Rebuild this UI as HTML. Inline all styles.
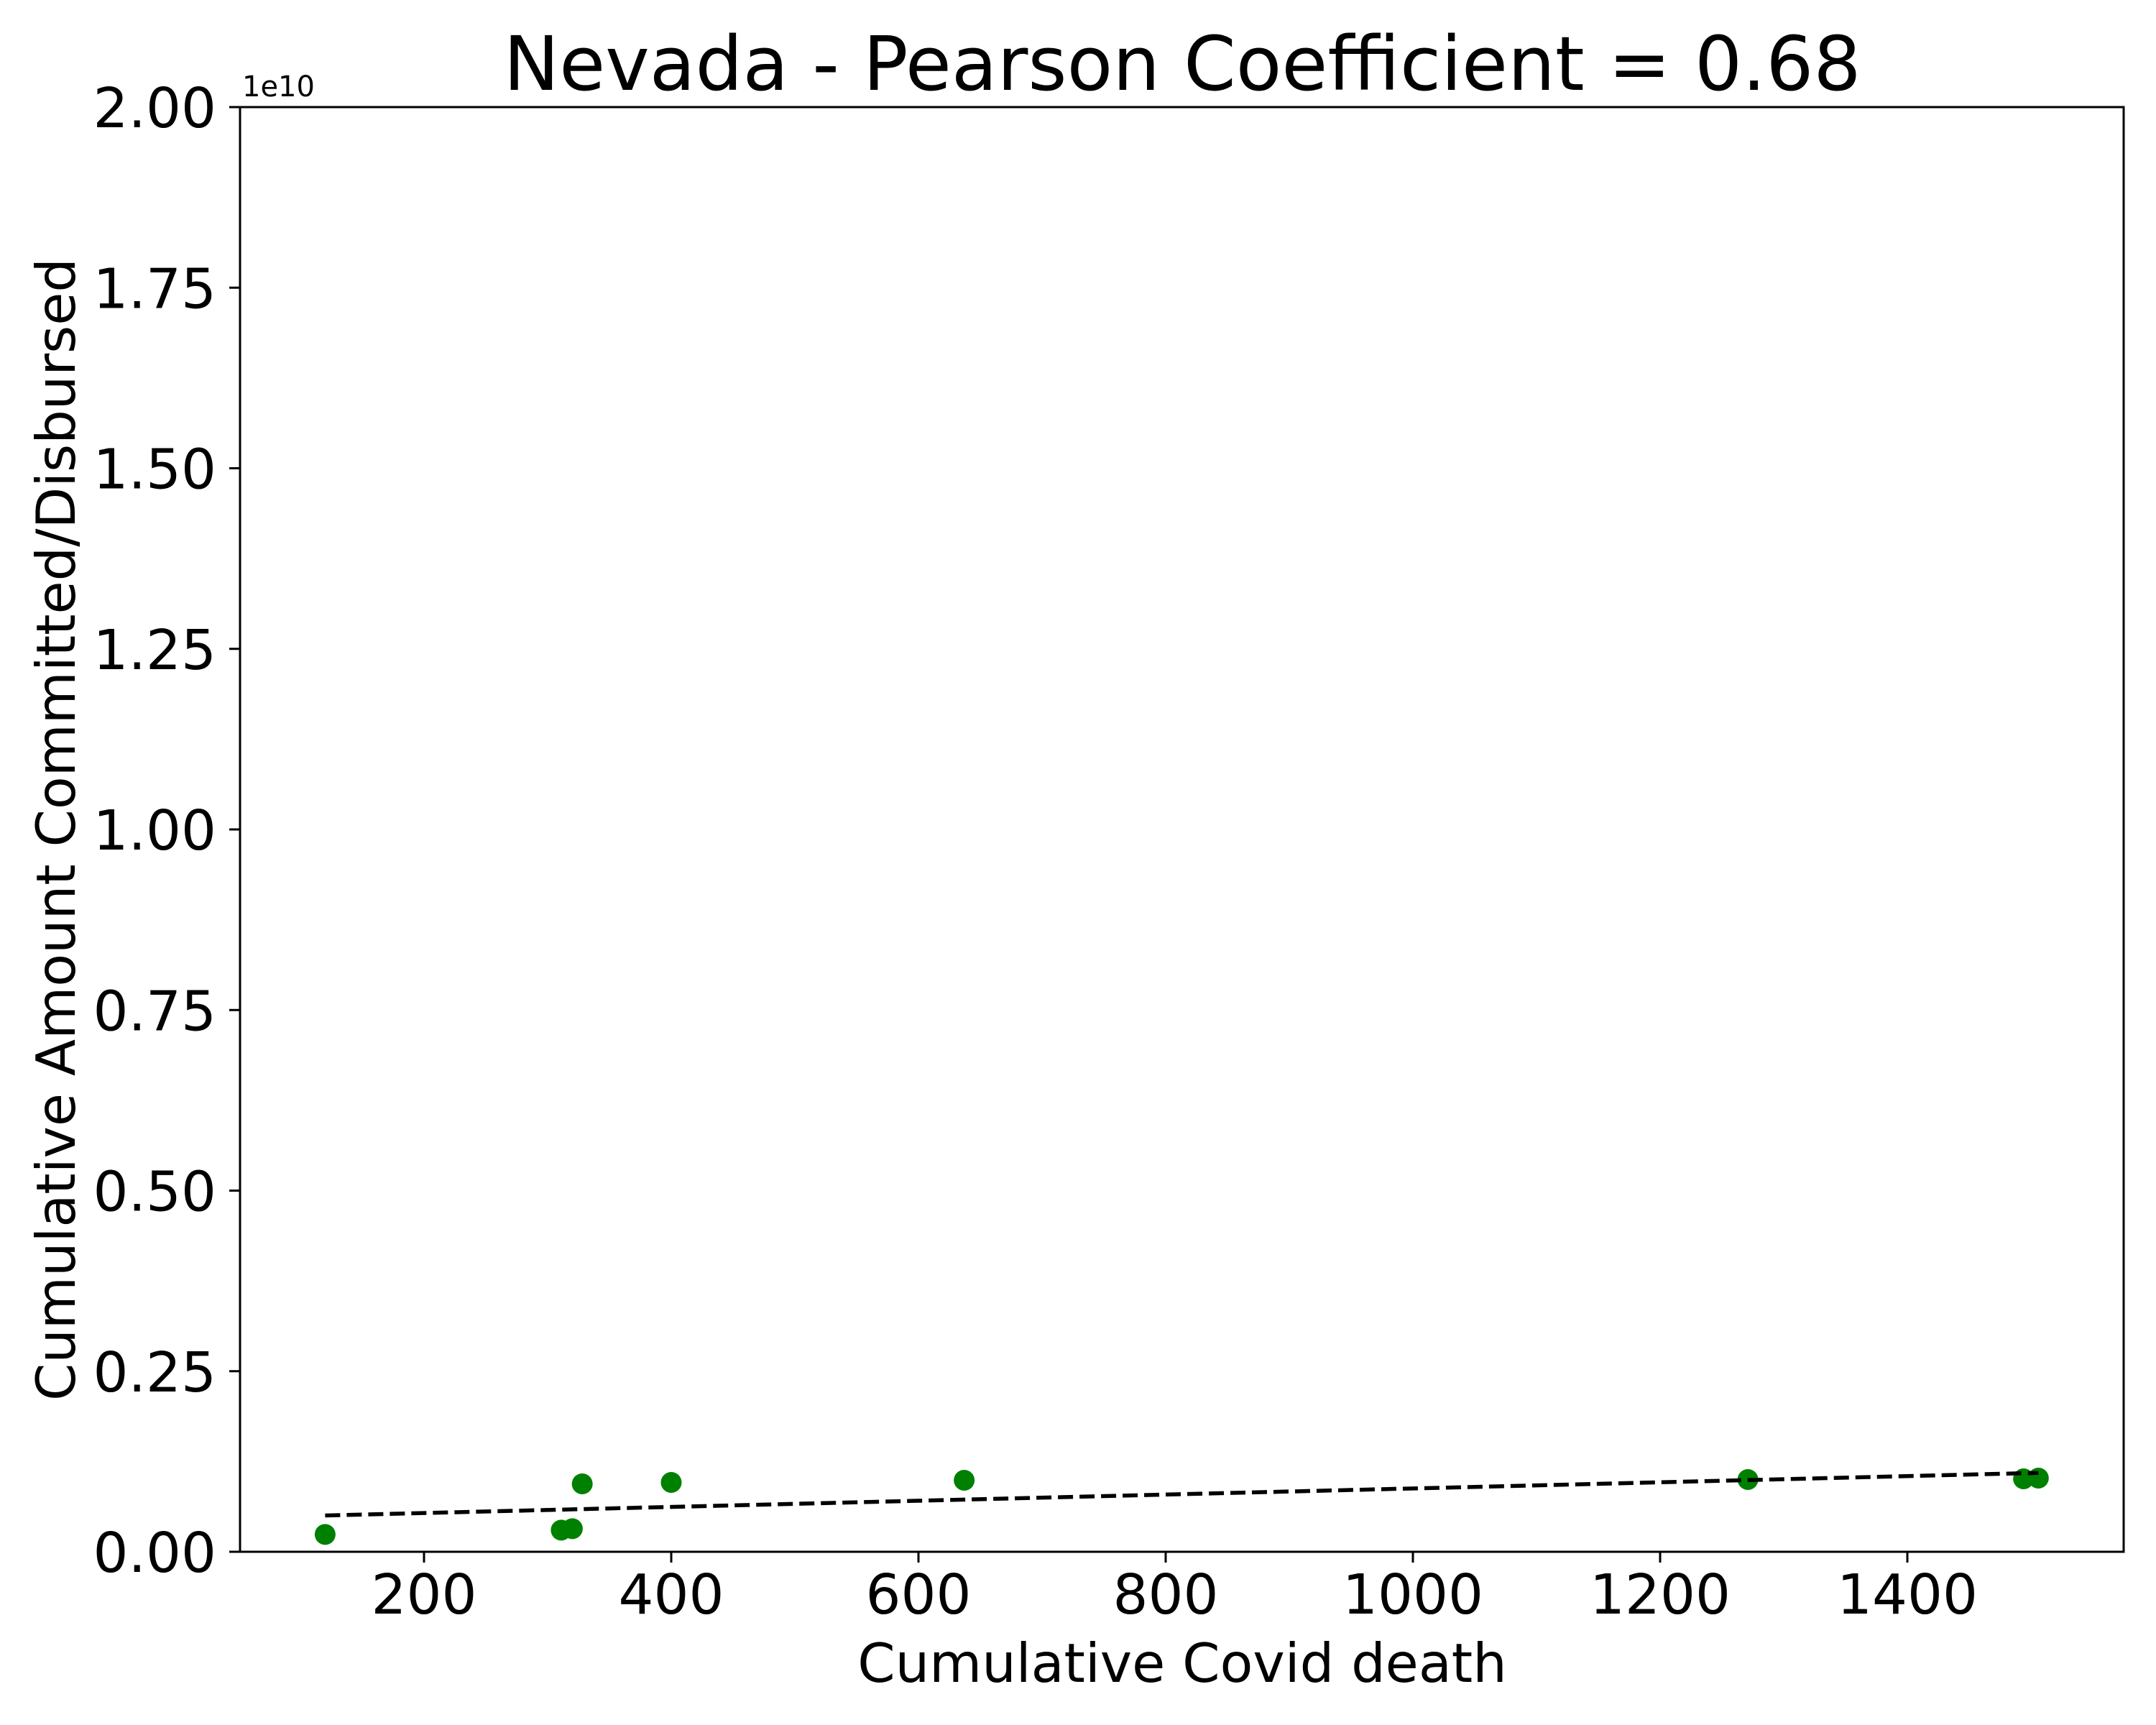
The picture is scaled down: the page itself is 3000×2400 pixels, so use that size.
<!DOCTYPE html>
<html><head><meta charset="utf-8"><style>
html,body{margin:0;padding:0;background:#fff;}
svg{display:block;font-family:"DejaVu Sans","Liberation Sans",sans-serif;}
</style></head><body>
<svg id="chart" width="3000" height="2400" viewBox="0 0 3000 2400">
<rect width="3000" height="2400" fill="#fff"/>
<text x="1645" y="125" font-size="104" text-anchor="middle">Nevada - Pearson Coefficient = 0.68</text>
<text x="1645" y="2340" font-size="75" text-anchor="middle">Cumulative Covid death</text>
<text x="0" y="0" font-size="75" text-anchor="middle" transform="translate(104,1154) rotate(-90)">Cumulative Amount Committed/Disbursed</text>
<text x="337" y="134" font-size="40">1e10</text>
<g id="marks"></g>
<rect x="334" y="149" width="2621" height="2010" fill="none" stroke="#000" stroke-width="3"/>
</svg>
<script>
const xValues = [120, 311, 320, 328, 400, 637, 1271, 1494, 1506];
const yValues = [0.24e9, 0.30e9, 0.32e9, 0.94e9, 0.96e9, 0.99e9, 1.0e9, 1.01e9, 1.02e9];
const xTicks = [200, 400, 600, 800, 1000, 1200, 1400];
const yTicks = [0, 0.25e10, 0.5e10, 0.75e10, 1.0e10, 1.25e10, 1.5e10, 1.75e10, 2.0e10];
const yTickLabels = ["0.00","0.25","0.50","0.75","1.00","1.25","1.50","1.75","2.00"];

const NS = "http://www.w3.org/2000/svg";
const X0 = 246, XS = 1.72;
function xPos(v){ return X0 + v * XS; }
function yPos(v){ return 2159 - v / 2e10 * 2010; }
const g = document.getElementById('marks');
function mk(tag, attrs){ const e = document.createElementNS(NS, tag); for (const k in attrs) e.setAttribute(k, attrs[k]); g.appendChild(e); return e; }

xTicks.forEach(t => {
  const l = mk('line', {x1: xPos(t), x2: xPos(t), y1: 2159, y2: 2174, stroke: '#000', 'stroke-width': 3});
  
  
  const tx = mk('text', {x: xPos(t), y: 2245, 'font-size': 77, 'text-anchor': 'middle'});
  tx.textContent = String(t);
  
  
});
yTicks.forEach((t, i) => {
  const l = mk('line', {x1: 319, x2: 334, y1: yPos(t), y2: yPos(t), stroke: '#000', 'stroke-width': 3});
  
  
  const tx = mk('text', {x: 301, y: yPos(t) + 28, 'font-size': 77, 'text-anchor': 'end'});
  tx.textContent = yTickLabels[i];
  
  
});

const n = xValues.length;
const mx = xValues.reduce((a,b)=>a+b,0)/n, my = yValues.reduce((a,b)=>a+b,0)/n;
let sxy = 0, sxx = 0;
for (let i=0;i<n;i++){ sxy += (xValues[i]-mx)*(yValues[i]-my); sxx += (xValues[i]-mx)**2; }
const slope = sxy/sxx, icpt = my - slope*mx;
const xmin = Math.min(...xValues), xmax = Math.max(...xValues);

xValues.forEach((v, i) => {
  const c = mk('circle', {cx: xPos(v), cy: yPos(yValues[i]), r: 14.5, fill: '#008000'});
  
  
});
const tl = mk('line', {x1: xPos(xmin), y1: yPos(slope*xmin+icpt), x2: xPos(xmax), y2: yPos(slope*xmax+icpt), stroke: '#000', 'stroke-width': 5.5, 'stroke-dasharray': '21 9'});


</script>
</body></html>
